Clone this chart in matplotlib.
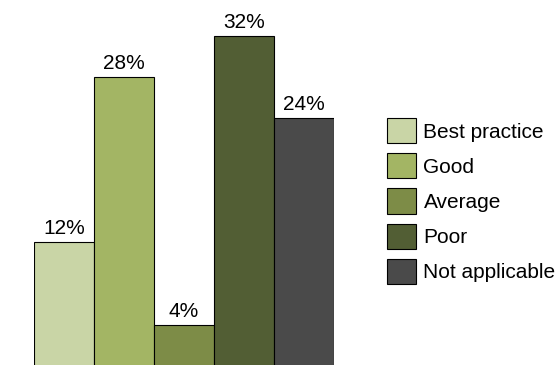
import matplotlib.pyplot as plt

plt.rcParams['font.family'] = ['Liberation Sans', 'DejaVu Sans']

# Survey response shares
categories = ['Best practice', 'Good', 'Average', 'Poor', 'Not applicable']
shares = [12, 28, 4, 32, 24]
colors = ['#C9D5A6', '#A3B564', '#7D8C47', '#525E34', '#4A4A4A']

W, H = 557, 365
fig = plt.figure(figsize=(W / 100, H / 100), dpi=100)
# axes placed in pixels: left, bottom, width, height
ax = fig.add_axes([34 / W, -1 / H, 300 / W, 361 / H])

xs = range(len(categories))
bars = ax.bar(xs, shares, width=1.0, color=colors, edgecolor='black',
              linewidth=0.8, label=categories)

# Value labels above the bars
for x, v in zip(xs, shares):
    ax.text(x, v + 0.4, f'{v}%', ha='center', va='bottom', fontsize=15)

ax.set_xlim(-0.5, len(categories) - 0.5)
ax.set_ylim(0, 35)
ax.axis('off')

handles = list(bars)
fig.legend(handles, categories, loc='center left',
           bbox_to_anchor=(387 / W, 1 - 201 / H), frameon=False,
           fontsize=15, handlelength=1.4, handleheight=1.48,
           handletextpad=0.35, labelspacing=0.48, borderpad=0,
           borderaxespad=0)

fig.savefig('out.png', dpi=100)
